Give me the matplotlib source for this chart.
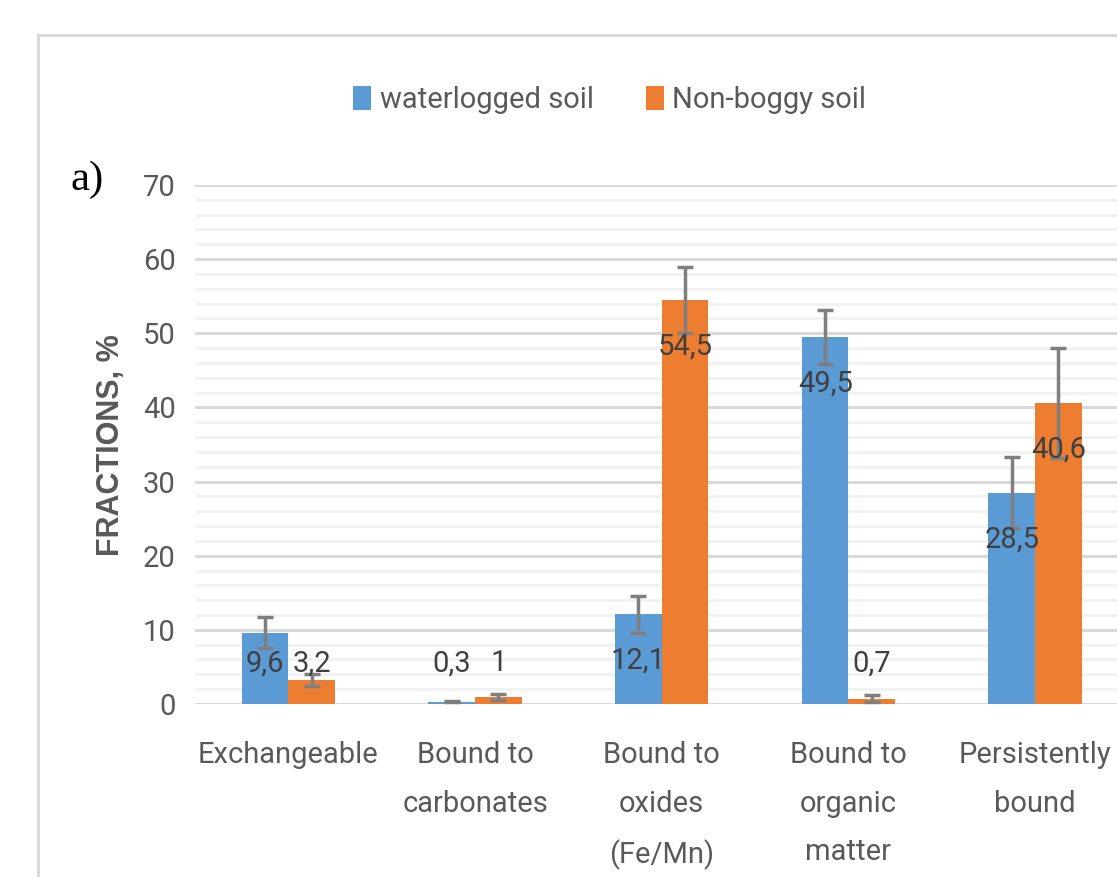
import numpy as np
import matplotlib.pyplot as plt
from matplotlib.patches import Rectangle

plt.rcParams['font.family'] = ['Roboto', 'DejaVu Sans']

categories = ['Exchangeable', 'Bound to\ncarbonates', 'Bound to\noxides\n(Fe/Mn)',
              'Bound to\norganic\nmatter', 'Persistently\nbound']
waterlogged = [9.6, 0.3, 12.1, 49.5, 28.5]
non_boggy = [3.2, 1.0, 54.5, 0.7, 40.6]
waterlogged_err = [2.1, 0.1, 2.5, 3.6, 4.8]
non_boggy_err = [0.8, 0.4, 4.4, 0.5, 7.4]
labels_w = ['9,6', '0,3', '12,1', '49,5', '28,5']
labels_n = ['3,2', '1', '54,5', '0,7', '40,6']

blue = '#5b9bd5'
orange = '#ed7d31'
err_col = '#7f7f7f'
fs = 21

fig = plt.figure(figsize=(11.17, 8.77), dpi=100)
fig.patches.append(Rectangle((0.034, -0.1), 1.2, 1.06, transform=fig.transFigure,
                             fill=False, edgecolor='#d9d9d9', linewidth=2.2))

ax = fig.add_axes([0.1746, 0.1973, 0.8357, 0.5918])
x = np.arange(len(categories))
w = 0.25

ax.bar(x - w / 2, waterlogged, w, color=blue, label='waterlogged soil', zorder=3)
ax.bar(x + w / 2, non_boggy, w, color=orange, label='Non-boggy soil', zorder=3)
ax.errorbar(x - w / 2, waterlogged, yerr=waterlogged_err, fmt='none', ecolor=err_col,
            elinewidth=2.5, capsize=5.5, capthick=2.5, zorder=4)
ax.errorbar(x + w / 2, non_boggy, yerr=non_boggy_err, fmt='none', ecolor=err_col,
            elinewidth=2.5, capsize=5.5, capthick=2.5, zorder=4)

# value labels sit inside the bar top, or just above the axis for short bars
for xs, vals, labs in [(x - w / 2, waterlogged, labels_w), (x + w / 2, non_boggy, labels_n)]:
    for xi, v, lab in zip(xs, vals, labs):
        ax.text(xi, max(v - 6.3, 5.5), lab, ha='center', va='center',
                fontsize=fs, color='#404040', zorder=5)

ax.set_xlim(-0.5, 4.5)
ax.set_ylim(0, 70)
ax.set_yticks(np.arange(0, 71, 10))
ax.set_yticks(np.arange(0, 71, 2), minor=True)
ax.grid(axis='y', which='major', color='#d9d9d9', linewidth=2.2, zorder=0)
ax.grid(axis='y', which='minor', color='#f2f2f2', linewidth=2.2, zorder=0)
ax.set_axisbelow(True)
for s in ax.spines.values():
    s.set_visible(False)
ax.tick_params(axis='y', which='both', length=0, labelsize=fs, labelcolor='#595959', pad=14)
ax.tick_params(axis='x', length=0, labelsize=fs, labelcolor='#595959', pad=27)
ax.set_xticks(x)
ax.set_xticklabels(categories, linespacing=1.92, va='top')

fig.text(0.099, 1 - 445 / 877, 'FRACTIONS, %', rotation=90, ha='center', va='center',
         fontsize=22, fontweight='bold', color='#595959',
         family=['Liberation Sans', 'DejaVu Sans'])
fig.text(0.078, 1 - 180 / 877, 'a)', ha='center', va='center', fontsize=31,
         family=['Liberation Serif', 'DejaVu Serif'], color='black')

fig.legend(loc='center', bbox_to_anchor=(0.546, 1 - 100 / 877), ncol=2, frameon=False,
           fontsize=fs, handlelength=0.6, handleheight=0.9, handletextpad=0.3,
           columnspacing=1.8, labelcolor='#595959')

fig.savefig('out.png', dpi=100)
